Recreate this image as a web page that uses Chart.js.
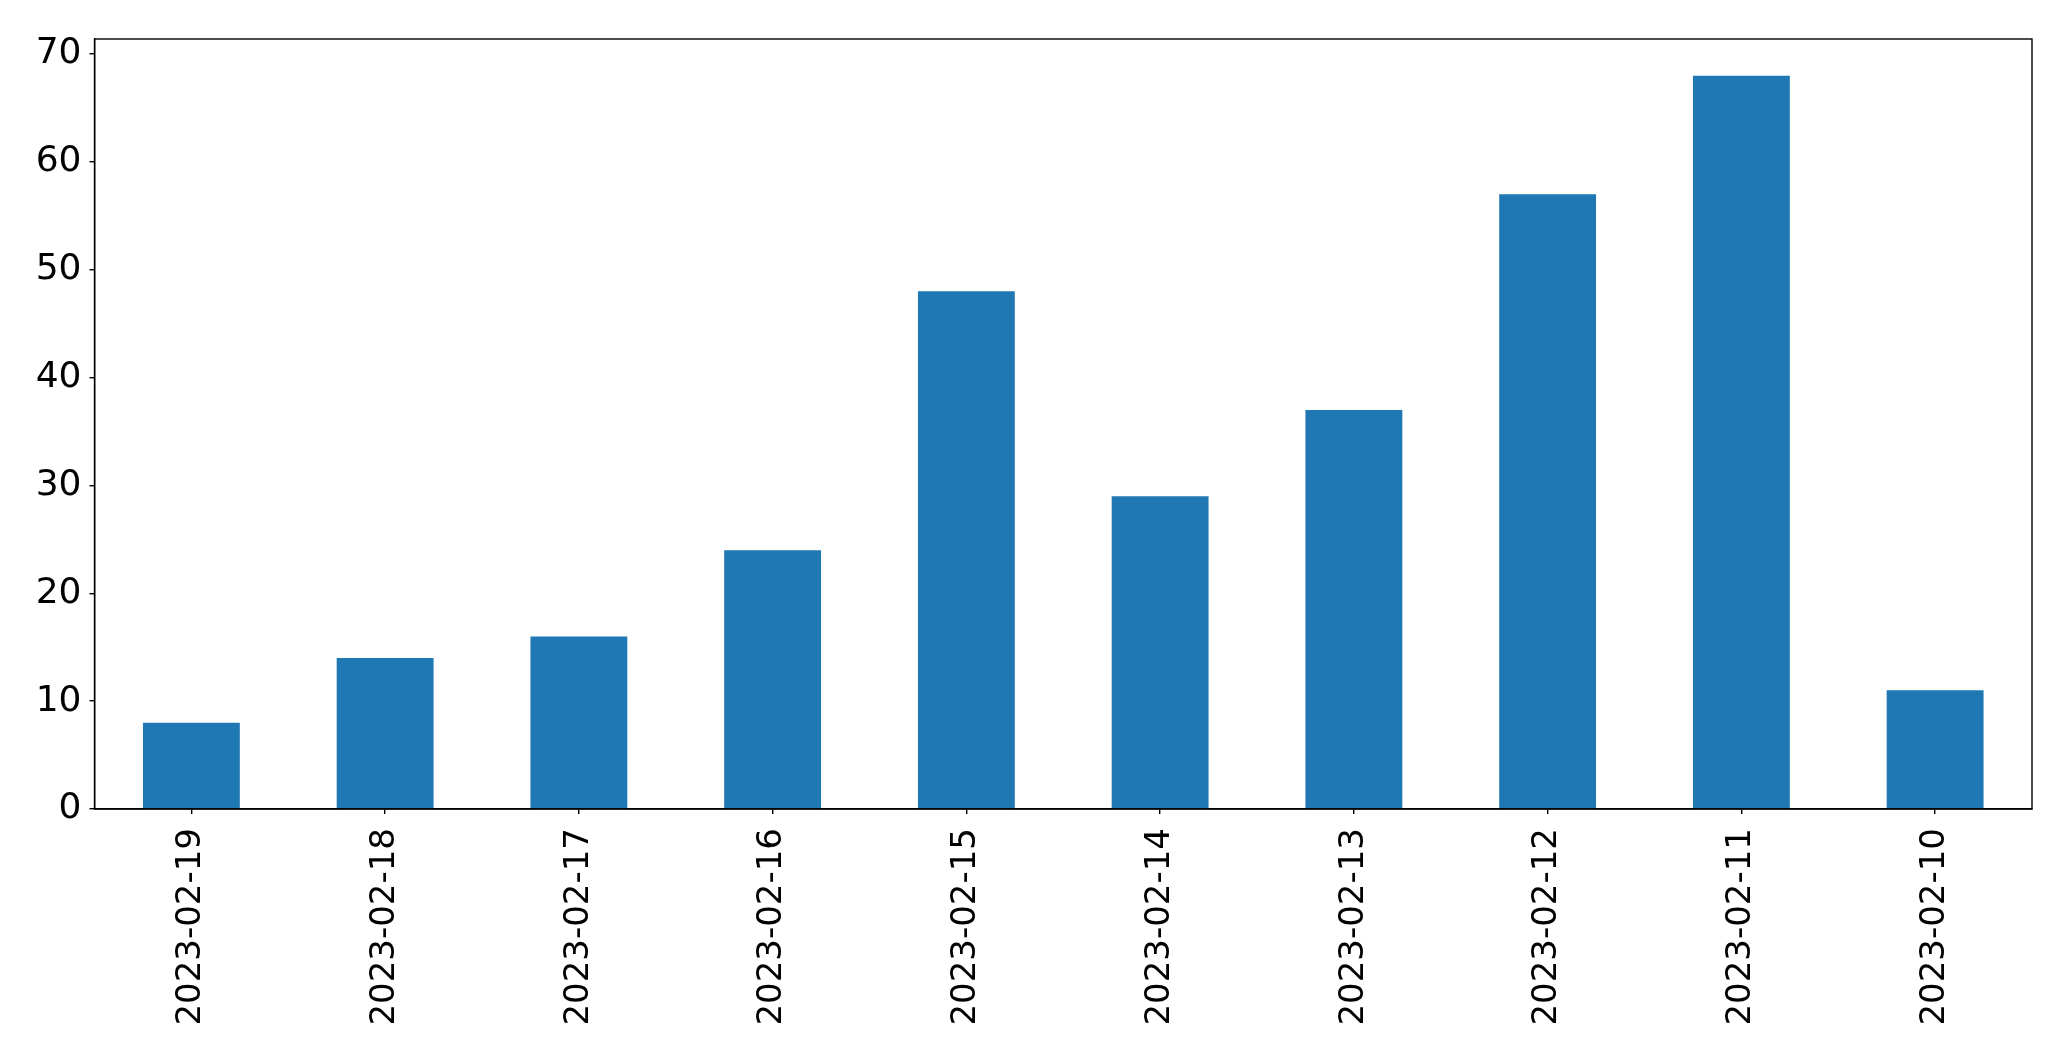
<!DOCTYPE html>
<html>
<head>
<meta charset="utf-8">
<script src="https://cdn.jsdelivr.net/npm/chart.js@4"></script>
<style>
html,body{margin:0;padding:0;background:#fff;}
#wrap{width:2071px;height:1061px;}
</style>
</head>
<body>
<div id="wrap"><canvas id="c" width="2071" height="1061"></canvas></div>
<script>
const categories = ["2023-02-19","2023-02-18","2023-02-17","2023-02-16","2023-02-15","2023-02-14","2023-02-13","2023-02-12","2023-02-11","2023-02-10"];
const values = [8, 14, 16, 24, 48, 29, 37, 57, 68, 11];
const yTicks = [0, 10, 20, 30, 40, 50, 60, 70];

const frame = {
  id: 'frame',
  afterDraw(chart) {
    const a = chart.chartArea, ctx = chart.ctx;
    ctx.save();
    ctx.strokeStyle = '#000';
    ctx.lineWidth = 1.4;
    ctx.strokeRect(a.left, a.top, a.right - a.left, a.bottom - a.top);
    ctx.restore();
  }
};

new Chart(document.getElementById('c'), {
  type: 'bar',
  data: {
    labels: categories,
    datasets: [{
      data: values,
      backgroundColor: '#1f77b4',
      borderWidth: 0,
      categoryPercentage: 1.0,
      barPercentage: 0.5
    }]
  },
  options: {
    responsive: false,
    animation: false,
    devicePixelRatio: 1,
    layout: { padding: { left: 0, top: 39, right: 39, bottom: 0 } },
    plugins: { legend: { display: false }, tooltip: { enabled: false } },
    scales: {
      x: {
        offset: true,
        grid: { drawOnChartArea: false, drawTicks: true, tickLength: 5, color: '#000', lineWidth: 1.4, offset: false },
        border: { display: true, color: '#000', width: 1.4 },
        ticks: {
          color: '#000',
          font: { family: 'DejaVu Sans', size: 34 },
          minRotation: 90, maxRotation: 90,
          padding: 14,
          autoSkip: false
        },
        afterFit(scale) { scale.height = 252; }
      },
      y: {
        min: 0,
        max: 71.4,
        grid: { drawOnChartArea: false, drawTicks: true, tickLength: 5, color: '#000', lineWidth: 1.4 },
        border: { display: true, color: '#000', width: 1.4 },
        afterBuildTicks(scale) { scale.ticks = yTicks.map(v => ({ value: v })); },
        ticks: {
          color: '#000',
          font: { family: 'DejaVu Sans', size: 36 },
          padding: 8
        },
        afterFit(scale) { scale.width = 94.5; }
      }
    }
  },
  plugins: [frame]
});
</script>
</body>
</html>
